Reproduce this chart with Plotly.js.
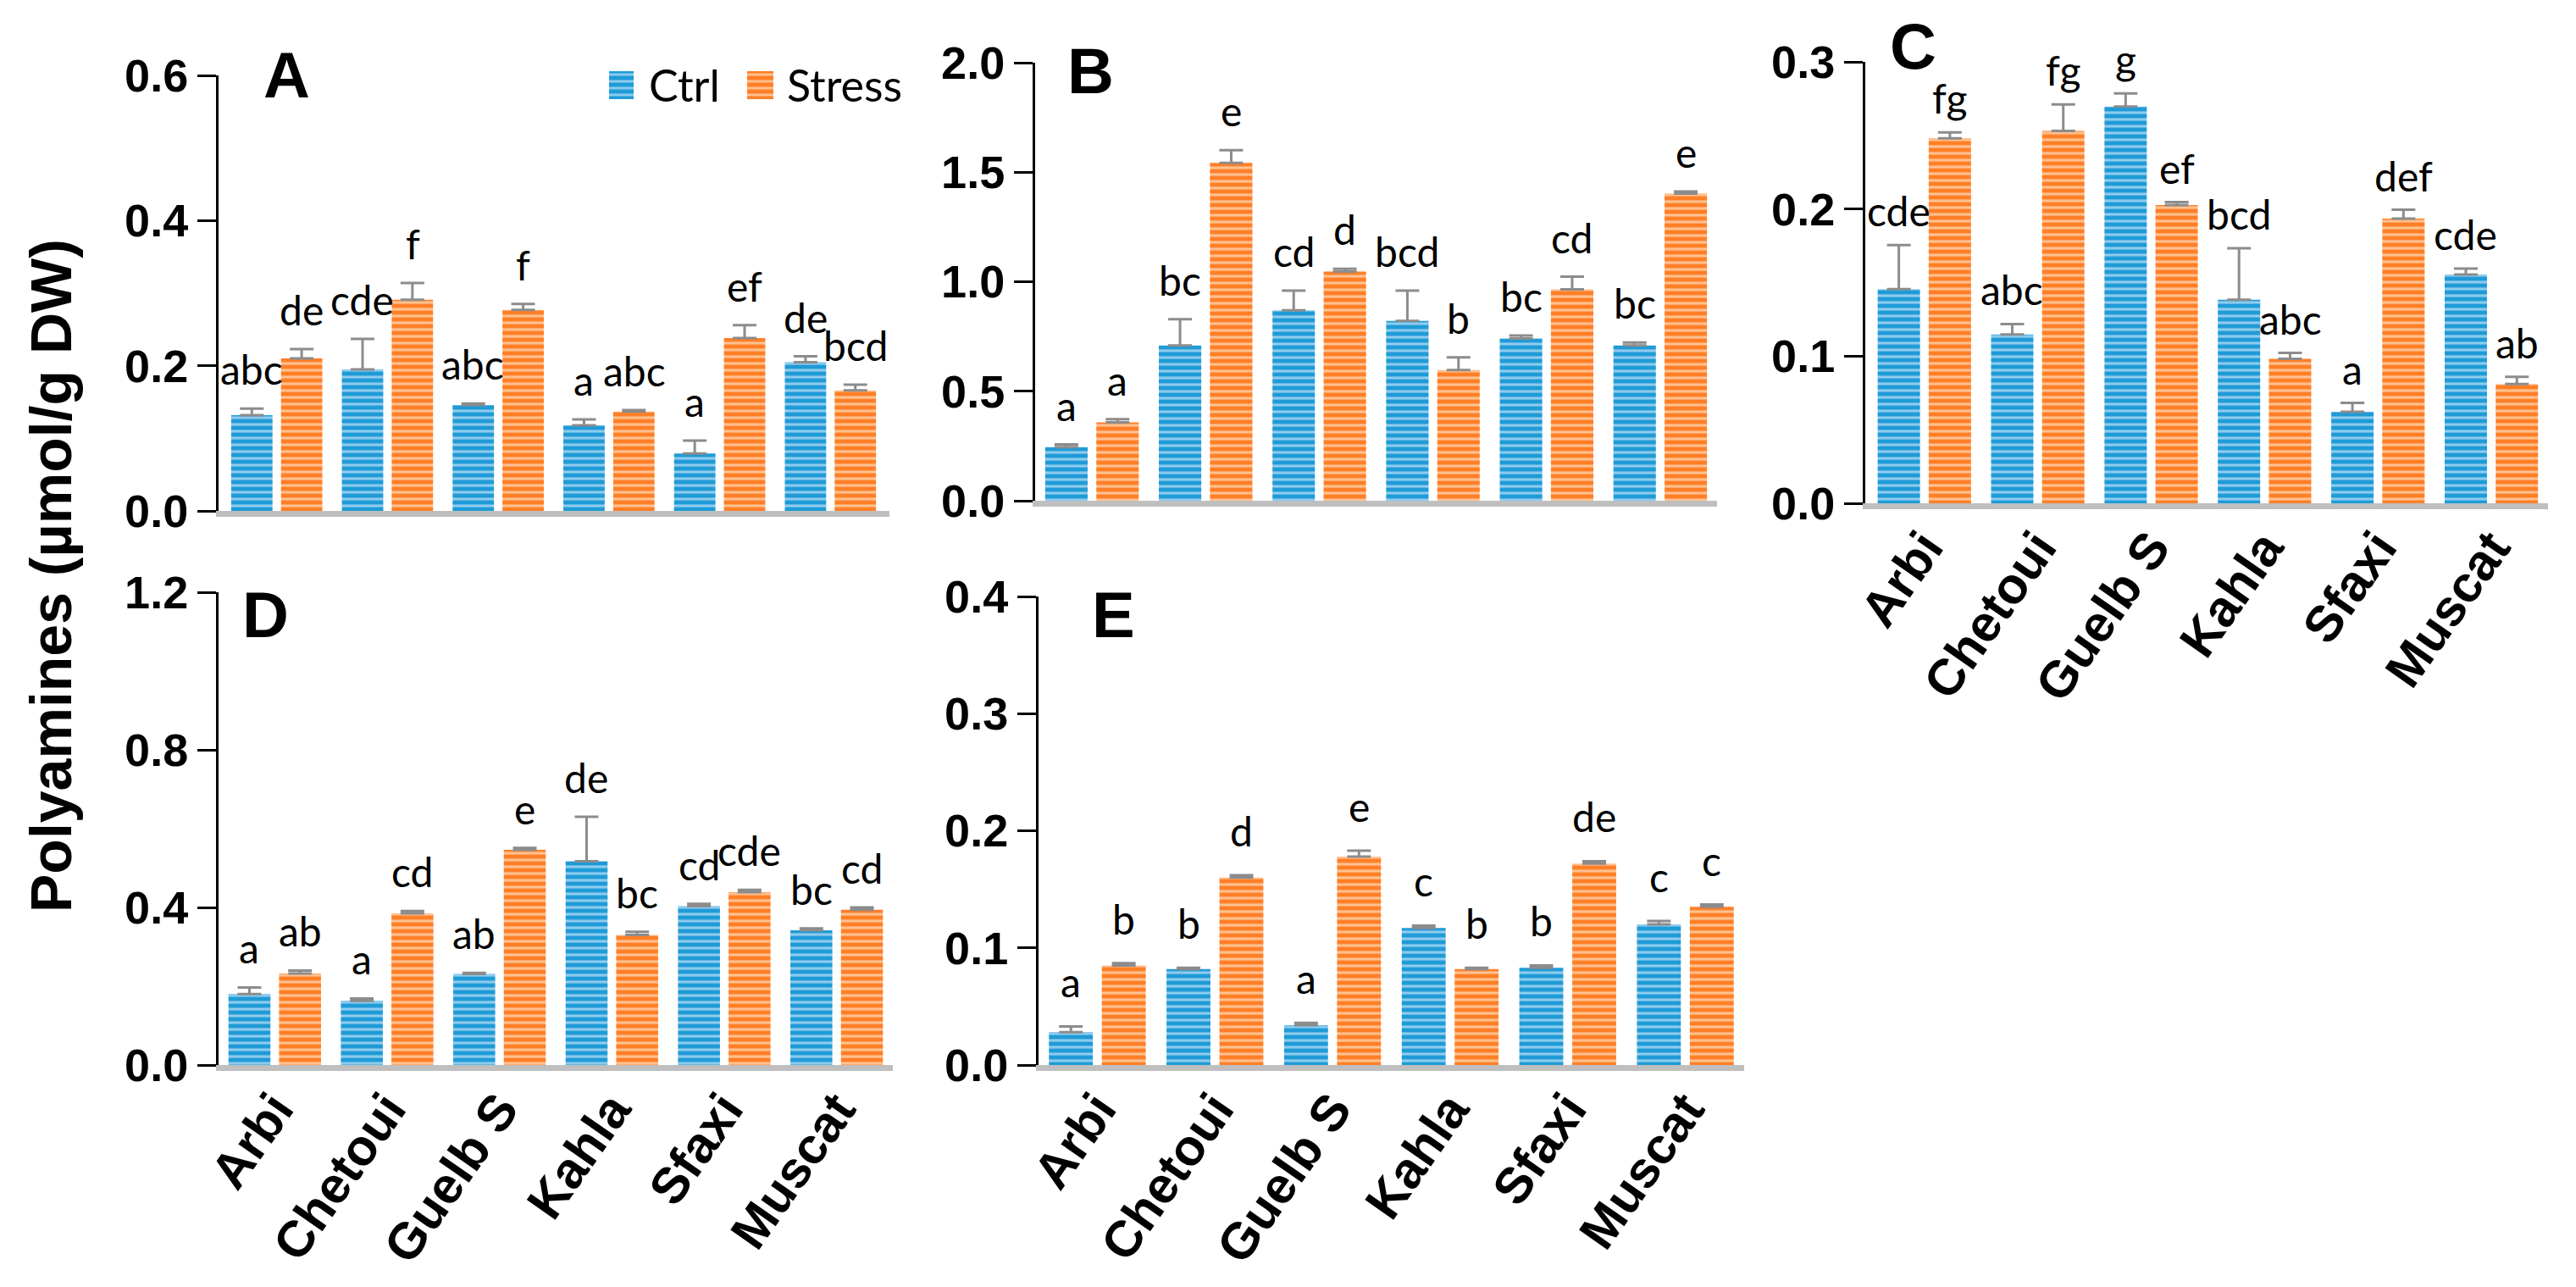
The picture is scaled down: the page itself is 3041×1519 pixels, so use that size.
<!DOCTYPE html>
<html>
<head>
<meta charset="utf-8">
<script src="https://cdn.plot.ly/plotly-3.0.1.min.js"></script>
<style>html,body{margin:0;padding:0;background:#fff;}#chart{width:3041px;height:1519px;}</style>
</head>
<body>
<div id="chart"></div>
<script>
// ---------------- data ----------------
const categories = ['Arbi', 'Chetoui', 'Guelb S', 'Kahla', 'Sfaxi', 'Muscat'];
const seriesNames = ['Ctrl', 'Stress'];
const yTitle = 'Polyamines (µmol/g DW)';

// Panel A
const aCtrl = [0.132, 0.195, 0.146, 0.118, 0.079, 0.205];
const aCtrlErr = [0.009, 0.042, 0.002, 0.008, 0.018, 0.008];
const aStress = [0.210, 0.291, 0.277, 0.137, 0.238, 0.166];
const aStressErr = [0.013, 0.023, 0.008, 0.002, 0.018, 0.008];
const aCtrlLetters = ['abc', 'cde', 'abc', 'a', 'a', 'de'];
const aStressLetters = ['de', 'f', 'f', 'abc', 'ef', 'bcd'];

// Panel B
const bCtrl = [0.245, 0.709, 0.869, 0.821, 0.741, 0.709];
const bCtrlErr = [0.012, 0.120, 0.090, 0.138, 0.013, 0.013];
const bStress = [0.358, 1.543, 1.046, 0.597, 0.965, 1.402];
const bStressErr = [0.014, 0.058, 0.013, 0.058, 0.058, 0.010];
const bCtrlLetters = ['a', 'bc', 'cd', 'bcd', 'bc', 'bc'];
const bStressLetters = ['a', 'e', 'd', 'b', 'cd', 'e'];

// Panel C
const cCtrl = [0.1455, 0.1148, 0.2696, 0.1383, 0.0622, 0.1555];
const cCtrlErr = [0.030, 0.007, 0.009, 0.035, 0.006, 0.004];
const cStress = [0.248, 0.253, 0.2027, 0.0982, 0.1935, 0.081];
const cStressErr = [0.004, 0.018, 0.002, 0.004, 0.006, 0.005];
const cCtrlLetters = ['cde', 'abc', 'g', 'bcd', 'a', 'cde'];
const cStressLetters = ['fg', 'fg', 'ef', 'abc', 'def', 'ab'];

// Panel D
const dCtrl = [0.180, 0.163, 0.231, 0.517, 0.403, 0.342];
const dCtrlErr = [0.017, 0.006, 0.003, 0.113, 0.006, 0.005];
const dStress = [0.232, 0.385, 0.546, 0.330, 0.4385, 0.394];
const dStressErr = [0.008, 0.006, 0.005, 0.008, 0.006, 0.006];
const dCtrlLetters = ['a', 'a', 'ab', 'de', 'cd', 'bc'];
const dStressLetters = ['ab', 'cd', 'e', 'bc', 'cde', 'cd'];

// Panel E
const eCtrl = [0.028, 0.082, 0.034, 0.117, 0.083, 0.120];
const eCtrlErr = [0.005, 0.001, 0.002, 0.002, 0.002, 0.003];
const eStress = [0.085, 0.160, 0.178, 0.082, 0.172, 0.135];
const eStressErr = [0.002, 0.002, 0.005, 0.001, 0.002, 0.002];
const eCtrlLetters = ['a', 'b', 'a', 'c', 'b', 'c'];
const eStressLetters = ['b', 'd', 'e', 'b', 'de', 'c'];

// ---------------- layout / style ----------------
const W = 3041, H = 1519;
const px = v => v / W;
const py = v => 1 - v / H;

const BLUE = '#1f9bd7', BLUE_L = '#8dcbed';
const ORANGE = '#ff7f27', ORANGE_L = '#ffc08f';
const ERR = '#8c8c8c';
const BOLD = 'Liberation Sans, Arial, Helvetica, sans-serif';
const LETTER_FONT = 'Lato, Calibri, Carlito, sans-serif';
const BARGAP = 0.1, BARGROUPGAP = 0.17;

const panels = [
  {name: 'A', ctrl: aCtrl, ctrlErr: aCtrlErr, stress: aStress, stressErr: aStressErr,
   ctrlL: aCtrlLetters, stressL: aStressLetters, range: [0, 0.6], dtick: 0.2,
   xpx: [258, 1050], ypx: [89, 603], letter: [309, 89], showX: false, lift: 16},
  {name: 'B', ctrl: bCtrl, ctrlErr: bCtrlErr, stress: bStress, stressErr: bStressErr,
   ctrlL: bCtrlLetters, stressL: bStressLetters, range: [0, 2.0], dtick: 0.5,
   xpx: [1222, 2027], ypx: [74, 591], letter: [1258, 84], showX: false, lift: 16},
  {name: 'C', ctrl: cCtrl, ctrlErr: cCtrlErr, stress: cStress, stressErr: cStressErr,
   ctrlL: cCtrlLetters, stressL: cStressLetters, range: [0, 0.3], dtick: 0.1,
   xpx: [2202, 3008], ypx: [73, 594], letter: [2229, 55], showX: true, lift: 10},
  {name: 'D', ctrl: dCtrl, ctrlErr: dCtrlErr, stress: dStress, stressErr: dStressErr,
   ctrlL: dCtrlLetters, stressL: dStressLetters, range: [0, 1.2], dtick: 0.4,
   xpx: [258, 1054], ypx: [699, 1257], letter: [284, 725], showX: true, lift: 16},
  {name: 'E', ctrl: eCtrl, ctrlErr: eCtrlErr, stress: eStress, stressErr: eStressErr,
   ctrlL: eCtrlLetters, stressL: eStressLetters, range: [0, 0.4], dtick: 0.1,
   xpx: [1226, 2059], ypx: [704, 1257], letter: [1287, 726], showX: true, lift: 22}
];

const traces = [];
const annotations = [];
const shapes = [];
const layout = {
  width: W, height: H,
  margin: {l: 0, r: 0, t: 0, b: 0, pad: 0},
  paper_bgcolor: '#ffffff', plot_bgcolor: '#ffffff',
  showlegend: false,
  barmode: 'group', bargap: BARGAP, bargroupgap: BARGROUPGAP,
  font: {family: BOLD, color: '#000000'}
};

function pattern(bg, fg) {
  return {shape: '-', bgcolor: bg, fgcolor: fg, size: 8, solidity: 0.4, fillmode: 'replace'};
}

panels.forEach((p, k) => {
  const idx = k === 0 ? '' : String(k + 1);
  const xa = 'x' + idx, ya = 'y' + idx;
  const zeros = p.ctrl.map(() => 0);
  [[p.ctrl, p.ctrlErr, BLUE, BLUE_L, seriesNames[0]], [p.stress, p.stressErr, ORANGE, ORANGE_L, seriesNames[1]]]
    .forEach(([vals, errs, c, cl, nm]) => {
      traces.push({
        type: 'bar', name: nm, x: categories, y: vals, xaxis: xa, yaxis: ya,
        marker: {color: c, pattern: pattern(c, cl), line: {width: 0}},
        error_y: {type: 'data', array: errs, arrayminus: zeros, symmetric: false,
                  color: ERR, thickness: 3, width: 14},
        hoverinfo: 'x+y', cliponaxis: false
      });
    });

  layout['xaxis' + idx] = {
    domain: [px(p.xpx[0]), px(p.xpx[1])], anchor: ya, type: 'category',
    showline: true, linecolor: '#bfbfbf', linewidth: 7,
    ticks: '', showgrid: false, zeroline: false,
    showticklabels: p.showX, tickangle: -55, ticklabelstandoff: -14,
    tickfont: {family: BOLD, size: 60, color: '#000000', weight: 'bold'}
  };
  layout['yaxis' + idx] = {
    domain: [py(p.ypx[1]), py(p.ypx[0])], anchor: xa,
    range: p.range, dtick: p.dtick, tick0: 0, tickformat: '.1f',
    showline: true, linecolor: '#000000', linewidth: 3,
    ticks: 'outside', ticklen: 22, tickwidth: 3, tickcolor: '#000000',
    showgrid: false, zeroline: false,
    tickfont: {family: BOLD, size: 54, color: '#000000', weight: 'bold'}
  };

  // significance letters above each bar
  const catW = (p.xpx[1] - p.xpx[0]) / categories.length;
  const slot = catW * (1 - BARGAP) / 2;
  categories.forEach((cat, i) => {
    [[p.ctrl, p.ctrlErr, p.ctrlL, -slot / 2], [p.stress, p.stressErr, p.stressL, slot / 2]]
      .forEach(([vals, errs, labs, shift]) => {
        annotations.push({
          xref: xa, yref: ya, x: cat, y: vals[i] + errs[i], text: labs[i],
          showarrow: false, xanchor: 'center', yanchor: 'bottom',
          xshift: shift, yshift: p.lift,
          font: {family: LETTER_FONT, size: 48, color: '#000000'}
        });
      });
  });

  // panel letter
  annotations.push({
    xref: 'paper', yref: 'paper', x: px(p.letter[0]), y: py(p.letter[1]),
    text: p.name, showarrow: false, xanchor: 'left', yanchor: 'middle',
    font: {family: BOLD, size: 76, color: '#000000', weight: 'bold'}
  });
});

// shared y-axis title
annotations.push({
  xref: 'paper', yref: 'paper', x: px(60), y: py(680), text: yTitle,
  textangle: -90, showarrow: false, xanchor: 'center', yanchor: 'middle',
  font: {family: BOLD, size: 68, color: '#000000', weight: 'bold'}
});

// legend (drawn in panel A's corner)
const legendItems = [
  {name: seriesNames[0], c: BLUE, cl: BLUE_L, box: [719, 748], textX: 764},
  {name: seriesNames[1], c: ORANGE, cl: ORANGE_L, box: [882, 913], textX: 927}
];
const legTop = 84, legBot = 117;
const stripeOffsets = [4, 12, 20, 28];
legendItems.forEach(it => {
  shapes.push({type: 'rect', xref: 'paper', yref: 'paper',
    x0: px(it.box[0]), x1: px(it.box[1]), y0: py(legBot), y1: py(legTop),
    fillcolor: it.c, line: {width: 0}});
  stripeOffsets.forEach(o => {
    shapes.push({type: 'line', xref: 'paper', yref: 'paper',
      x0: px(it.box[0]), x1: px(it.box[1]), y0: py(legTop + o), y1: py(legTop + o),
      line: {color: it.cl, width: 3}});
  });
  annotations.push({xref: 'paper', yref: 'paper', x: px(it.textX), y: py((legTop + legBot) / 2),
    text: it.name, showarrow: false, xanchor: 'left', yanchor: 'middle',
    font: {family: LETTER_FONT, size: 52, color: '#000000'}});
});

layout.annotations = annotations;
layout.shapes = shapes;

Plotly.newPlot('chart', traces, layout, {displayModeBar: false, staticPlot: true});
</script>
</body>
</html>
